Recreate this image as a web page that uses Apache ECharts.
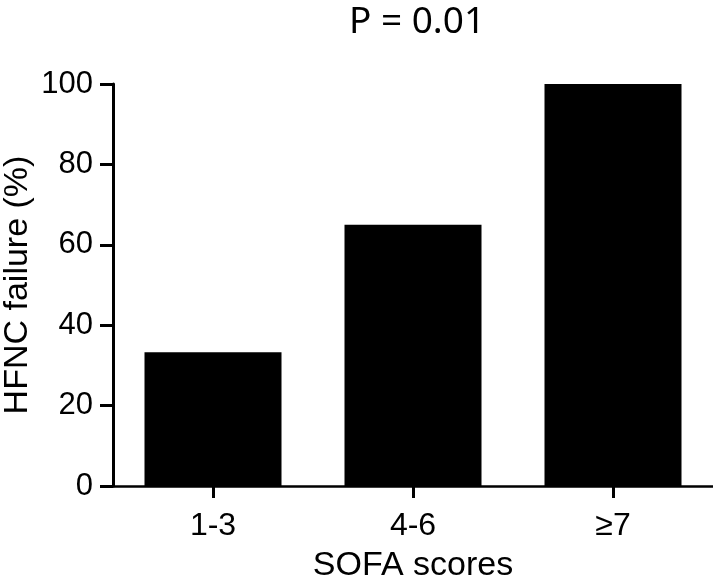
<!DOCTYPE html>
<html>
<head>
<meta charset="utf-8">
<script src="https://cdn.jsdelivr.net/npm/echarts@6/dist/echarts.min.js"></script>
<style>
  html, body { margin: 0; padding: 0; background: #fff; }
  #main { width: 713px; height: 584px; }
</style>
</head>
<body>
<div id="main"></div>
<script>
const categories = ['1-3', '4-6', '≥7'];
const failureRate = [33.3, 65, 100];
const yTicks = [0, 20, 40, 60, 80, 100];

const myChart = echarts.init(document.getElementById('main'));

const axisFont = 'Liberation Sans, Arial, sans-serif';

const option = {
  backgroundColor: '#fff',
  animation: false,
  title: {
    text: 'P = 0.01',
    left: 412,
    top: -1,
    textAlign: 'center',
    textStyle: {
      fontFamily: 'Noto Sans, Open Sans, sans-serif',
      fontWeight: 'normal',
      fontSize: 37,
      color: '#000',
    },
  },
  grid: {
    left: 113,
    right: 0,
    top: 84,
    bottom: 98,
    containLabel: false,
    outerBoundsMode: 'none',
  },
  xAxis: {
    type: 'category',
    data: categories,
    name: 'SOFA scores',
    nameLocation: 'middle',
    nameGap: 63,
    nameMoveOverlap: false,
    nameTextStyle: {
      fontFamily: axisFont,
      fontSize: 34,
      color: '#000',
    },
    axisLine: {
      show: true,
      lineStyle: { color: '#000', width: 2.5 },
    },
    axisTick: {
      show: true,
      alignWithLabel: true,
      length: 12,
      lineStyle: { color: '#000', width: 3 },
    },
    axisLabel: {
      fontFamily: axisFont,
      fontSize: 32,
      color: '#000',
      margin: 24,
    },
    splitLine: { show: false },
  },
  yAxis: {
    type: 'value',
    min: yTicks[0],
    max: yTicks[yTicks.length - 1],
    interval: 20,
    name: 'HFNC failure (%)',
    nameLocation: 'middle',
    nameGap: 78,
    nameMoveOverlap: false,
    nameTextStyle: {
      fontFamily: axisFont,
      fontSize: 34,
      color: '#000',
    },
    axisLine: {
      show: true,
      lineStyle: { color: '#000', width: 3 },
    },
    axisTick: {
      show: true,
      length: 13,
      lineStyle: { color: '#000', width: 3 },
    },
    axisLabel: {
      fontFamily: axisFont,
      fontSize: 31,
      color: '#000',
      margin: 20,
    },
    splitLine: { show: false },
  },
  series: [
    {
      type: 'bar',
      data: failureRate,
      barWidth: 137,
      itemStyle: { color: '#000' },
    },
  ],
};

myChart.setOption(option);
</script>
</body>
</html>
